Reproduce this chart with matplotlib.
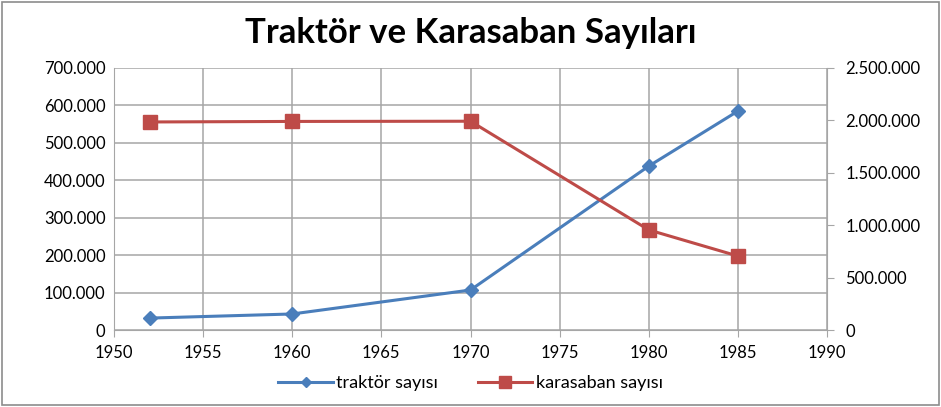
import matplotlib
matplotlib.use('Agg')
import matplotlib.pyplot as plt
from matplotlib.ticker import FuncFormatter, MultipleLocator
from matplotlib.patches import Rectangle

plt.rcParams['font.family'] = ['Lato', 'DejaVu Sans']

# values
years = [1952, 1960, 1970, 1980, 1985]
traktor = [32000, 43000, 107000, 438000, 585000]
karasaban = [1985000, 1990000, 1992000, 955000, 706000]


def dotted(v, pos):
    return f'{int(v):,}'.replace(',', '.')


fig = plt.figure(figsize=(9.41, 4.07), dpi=100)
fig.patches.append(Rectangle((0.002, 0.004), 0.996, 0.992, transform=fig.transFigure,
                             fill=False, edgecolor='#8c8c8c', linewidth=1.2))
ax = fig.add_axes([0.121, 0.189, 0.758, 0.644])
ax2 = ax.twinx()

blue = '#4a7ebb'
red = '#be4b48'
grid = '#a6a6a6'

ax.plot(years, traktor, color=blue, lw=2.2, marker='D', ms=7, label='traktör sayısı', zorder=3)
ax2.plot(years, karasaban, color=red, lw=2.2, marker='s', ms=10, label='karasaban sayısı', zorder=3)

ax.set_xlim(1950, 1990)
ax.set_ylim(0, 700000)
ax2.set_ylim(0, 2500000)
ax.xaxis.set_major_locator(MultipleLocator(5))
ax.yaxis.set_major_locator(MultipleLocator(100000))
ax2.yaxis.set_major_locator(MultipleLocator(500000))
ax.yaxis.set_major_formatter(FuncFormatter(dotted))
ax2.yaxis.set_major_formatter(FuncFormatter(dotted))

ax.grid(True, color=grid, lw=1.1)
ax.set_axisbelow(True)
for a in (ax, ax2):
    for s in a.spines.values():
        s.set_visible(False)
    a.tick_params(labelsize=12, colors='#000000', length=0, pad=6)
ax.spines['left'].set_visible(True)
ax.spines['left'].set_color(grid)
ax.spines['bottom'].set_visible(True)
ax.spines['bottom'].set_color(grid)
ax2.spines['right'].set_visible(True)
ax2.spines['right'].set_color(grid)
ax2.tick_params(axis='y', length=5, color=grid, pad=8)
ax.tick_params(axis='x', length=5, color=grid)

fig.text(0.5, 0.918, 'Traktör ve Karasaban Sayıları', ha='center', va='center',
         fontsize=25, fontweight='bold')

h1, l1 = ax.get_legend_handles_labels()
h2, l2 = ax2.get_legend_handles_labels()
fig.legend(h1 + h2, l1 + l2, loc='center', bbox_to_anchor=(0.5, 0.058), ncol=2,
           frameon=False, fontsize=13, handlelength=3.0, handletextpad=0.2,
           columnspacing=2.2, markerscale=0.8)

fig.savefig('out.png', dpi=100)
